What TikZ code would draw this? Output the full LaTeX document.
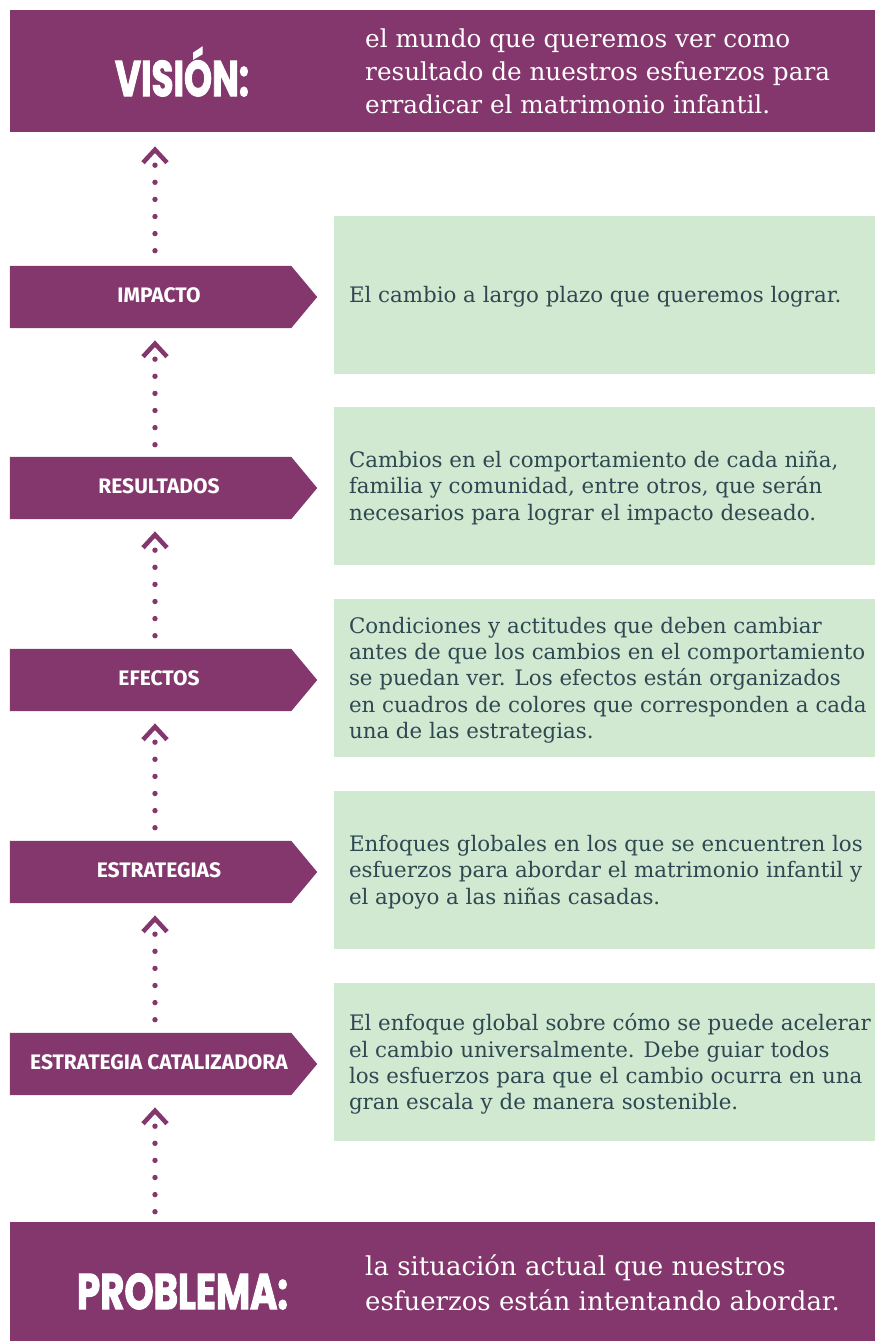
\documentclass[tikz,border=0pt]{standalone}
\usepackage{fontspec}
\usepackage{graphicx}
\usetikzlibrary{calc}
\setmainfont{DejaVu Serif}
\newfontfamily\labfont{Fira Sans}
\newfontfamily\dispfont{Poppins}[BoldFeatures={FakeBold=2.5}]
\definecolor{plum}{RGB}{132,55,109}
\definecolor{mint}{RGB}{209,232,209}
\definecolor{ink}{RGB}{46,72,82}
\begin{document}
\begin{tikzpicture}[x=1pt,y=-1pt,
  banner/.style={fill=plum, draw=none, inner sep=0pt, minimum width=865pt},
  disptext/.style={text=white, inner sep=0pt, anchor=base, font=\dispfont\bfseries\fontsize{50}{50}\selectfont},
  bannertext/.style={text=white, inner sep=0pt, anchor=west, align=left},
  greenbox/.style={fill=mint, draw=none, inner sep=0pt, minimum width=541pt, minimum height=158pt},
  bodytext/.style={text=ink, inner sep=0pt, anchor=west, align=left, font=\fontsize{21.35}{26.3}\selectfont},
  arrowbox/.style={inner sep=0pt, minimum width=307pt, minimum height=62pt},
  arrowlabel/.style={text=white, inner sep=0pt, anchor=base, font=\labfont\bfseries\fontsize{21}{21}\selectfont},
  chev/.style={draw=plum, line width=4.5pt, line join=miter, line cap=butt},
  dotline/.style={draw=plum, line width=5.4pt, line cap=round, dash pattern=on 0pt off 17.1pt}
]
\useasboundingbox (0,0) rectangle (875,1341);
\coordinate (colx) at (155,0);

% vision
\node[banner, minimum height=122pt] (vision) at (442.5,71) {};
\node[disptext] (vislab) at (182,96) {\resizebox{134pt}{\height}{VISIÓN:}};
\node[bannertext, font=\fontsize{24.7}{33}\selectfont] (vistext) at (365,71)
  {el mundo que queremos ver como\\resultado de nuestros esfuerzos para\\erradicar el matrimonio infantil.};

% problem
\node[banner, minimum height=119pt] (problem) at (442.5,1281.5) {};
\node[disptext] (problab) at (182.5,1309) {\resizebox{211pt}{\height}{PROBLEMA:}};
\node[bannertext, font=\fontsize{26}{35}\selectfont] (probtext) at (365,1283)
  {la situación actual que nuestros\\esfuerzos están intentando abordar.};

% rows
\foreach \n/\cy/\lab/\txt in {
  1/297/IMPACTO/{El cambio a largo plazo que queremos lograr.},
  2/488/RESULTADOS/{Cambios en el comportamiento de cada niña,\\familia y comunidad, entre otros, que serán\\necesarios para lograr el impacto deseado.},
  3/680/EFECTOS/{Condiciones y actitudes que deben cambiar\\antes de que los cambios en el comportamiento\\se puedan ver. Los efectos están organizados\\en cuadros de colores que corresponden a cada\\una de las estrategias.},
  4/872/ESTRATEGIAS/{Enfoques globales en los que se encuentren los\\esfuerzos para abordar el matrimonio infantil y\\el apoyo a las niñas casadas.},
  5/1064/ESTRATEGIA CATALIZADORA/{El enfoque global sobre cómo se puede acelerar\\el cambio universalmente. Debe guiar todos\\los esfuerzos para que el cambio ocurra en una\\gran escala y de manera sostenible.}}{
  \node[arrowbox] (a\n) at (163.5,\cy) {};
  \fill[plum] (a\n.north west) -- ($(a\n.north east)+(-26,0)$) -- (a\n.east)
     -- ($(a\n.south east)+(-26,0)$) -- (a\n.south west) -- cycle;
  \node[arrowlabel] (l\n) at (159,\cy+5.5) {\lab};
  \node[greenbox] (g\n) at (604.5,\cy-2) {};
  \node[bodytext] (t\n) at ($(g\n.west)+(15,2)$) {\txt};
}

% connectors
\foreach \u/\l/\g in {vision/a1/14, a1/a2/12, a2/a3/12, a3/a4/12, a4/a5/12, a5/problem/12}{
  \draw[chev] ($(\u.south -| colx)+(-12,\g+16.5)$) -- ($(\u.south -| colx)+(0,\g+3.5)$)
     -- ($(\u.south -| colx)+(12,\g+16.5)$);
  \draw[dotline] ($(\u.south -| colx)+(0,\g+19)$) -- ($(\l.north -| colx)+(0,-10)$);
}
\end{tikzpicture}
\end{document}
